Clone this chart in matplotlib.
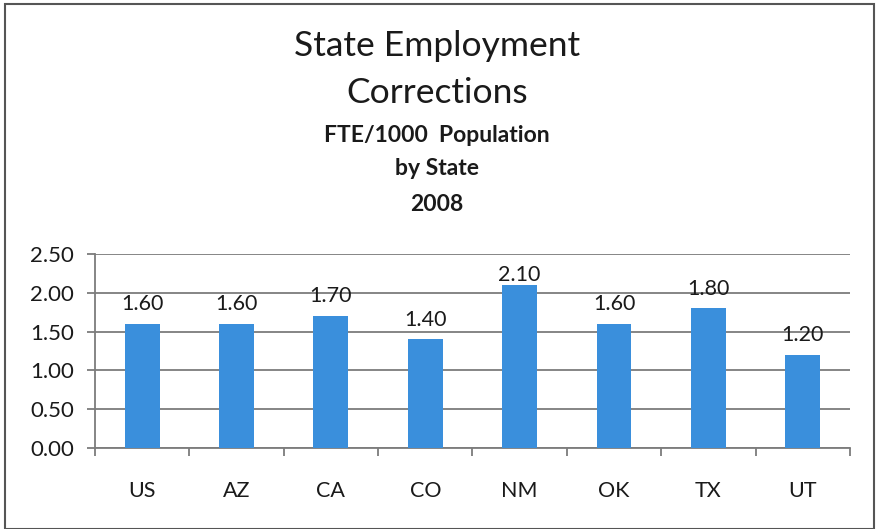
import matplotlib.pyplot as plt
from matplotlib.patches import Rectangle

states = ["US", "AZ", "CA", "CO", "NM", "OK", "TX", "UT"]
fte_per_1000 = [1.60, 1.60, 1.70, 1.40, 2.10, 1.60, 1.80, 1.20]
y_ticks = [0.0, 0.5, 1.0, 1.5, 2.0, 2.5]

plt.rcParams['font.family'] = ['Lato', 'DejaVu Sans']
ink = '#1a1a1a'

fig = plt.figure(figsize=(8.78, 5.29), dpi=100)
fig.patches.append(Rectangle((0.006, 0.0), 0.99, 0.993, transform=fig.transFigure,
                             fill=False, edgecolor='#555555', linewidth=1.5))

ax = fig.add_axes([0.1082, 0.1531, 0.8598, 0.3667])
x = list(range(len(states)))
ax.bar(x, fte_per_1000, width=0.37, color='#3a8fdc', zorder=3)

for xi, v in zip(x, fte_per_1000):
    # Excel keeps the tallest label inside the plot area
    off = 7 if v < 2.0 else 0
    ax.annotate(f"{v:.2f}", (xi, v), xytext=(0, off), textcoords='offset points',
                ha='center', va='bottom', fontsize=15.5, color=ink, zorder=4)

ax.set_xlim(-0.5, len(states) - 0.5)
ax.set_ylim(0, 2.5)
ax.set_yticks(y_ticks)
ax.set_yticklabels([f"{t:.2f}" for t in y_ticks], fontsize=16, color=ink)
ax.yaxis.grid(True, color='#7c7c7c', linewidth=1.3, zorder=0)
ax.tick_params(axis='y', length=6, color='#7c7c7c', width=1.3, pad=9)

ax.set_xticks(x)
ax.set_xticklabels(states, fontsize=15.5, color=ink)
ax.set_xticks([i - 0.5 for i in range(len(states) + 1)], minor=True)
ax.tick_params(axis='x', which='major', length=0, pad=24)
ax.tick_params(axis='x', which='minor', length=6, color='#7c7c7c', width=1.3)

for side in ['top', 'right']:
    ax.spines[side].set_visible(False)
for side in ['left', 'bottom']:
    ax.spines[side].set_color('#7c7c7c')
    ax.spines[side].set_linewidth(1.3)

fig.text(0.498, 1 - 46 / 529, "State Employment", ha='center', va='center', fontsize=25.5, color=ink)
fig.text(0.498, 1 - 93 / 529, "Corrections", ha='center', va='center', fontsize=25.5, color=ink)
fig.text(0.498, 1 - 135 / 529, "FTE/1000  Population", ha='center', va='center', fontsize=16.5,
         fontweight='bold', color=ink)
fig.text(0.498, 1 - 169 / 529, "by State", ha='center', va='center', fontsize=16.5,
         fontweight='bold', color=ink)
fig.text(0.498, 1 - 205 / 529, "2008", ha='center', va='center', fontsize=16.5,
         fontweight='bold', color=ink)

fig.savefig("out.png", dpi=100)
